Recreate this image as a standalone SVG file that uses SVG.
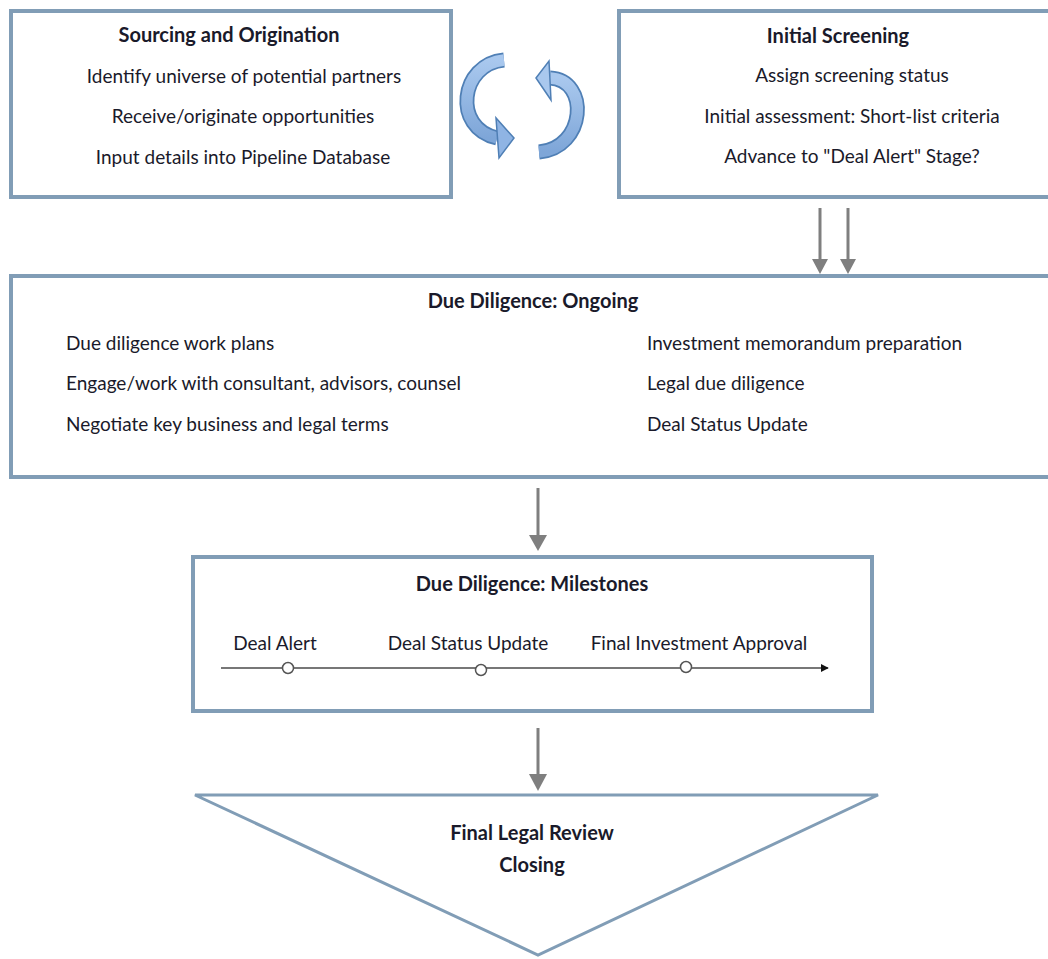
<svg xmlns="http://www.w3.org/2000/svg" width="1048" height="959" viewBox="0 0 1048 959">
<style>
.box{fill:#ffffff;stroke:#819DB6;stroke-width:4}
.t{font-family:Lato,"Liberation Sans",sans-serif;font-size:19px;fill:#1a1a2a}
.b{font-weight:bold;font-size:20px}
.m{text-anchor:middle}
.arr{stroke:#7f7f7f;stroke-width:3;fill:none}
.ah{fill:#7f7f7f}
.cyc{fill:none;stroke:#4f7fb5;stroke-width:15}
.cycin{fill:none;stroke:url(#g);stroke-width:11.5}
</style>
<defs>
<linearGradient id="g" x1="0" y1="0" x2="0" y2="1">
<stop offset="0" stop-color="#a9c8ee"/>
<stop offset="1" stop-color="#7ea6d8"/>
</linearGradient>
<marker id="tl" viewBox="0 0 10 10" refX="9" refY="5" markerWidth="8" markerHeight="8" markerUnits="userSpaceOnUse" orient="auto">
<path d="M0,0 L10,5 L0,10 z" fill="#111"/>
</marker>
</defs>
<rect width="1048" height="959" fill="#ffffff"/>

<g id="sourcing">
<rect class="box" x="11" y="11" width="440" height="186"/>
<text class="t b m" x="229" y="42">Sourcing and Origination</text>
<text class="t m" x="244" y="83">Identify universe of potential partners</text>
<text class="t m" x="243" y="123">Receive/originate opportunities</text>
<text class="t m" x="243" y="164">Input details into Pipeline Database</text>
</g>

<g id="cycle">
<path class="cyc" d="M504 60 C460 64,452 128,497 138"/>
<path class="cycin" d="M504 60 C460 64,452 128,497 138"/>
<polygon points="514,138 496,118 499,158" fill="#8fb4e4" stroke="#4f7fb5" stroke-width="1.5"/>
<path class="cyc" d="M539 152 C586 148,590 80,550 78"/>
<path class="cycin" d="M539 152 C586 148,590 80,550 78"/>
<polygon points="536,78 549,61 551,100" fill="#a9c8ee" stroke="#4f7fb5" stroke-width="1.5"/>
</g>

<g id="screening">
<rect class="box" x="619" y="11" width="450" height="186"/>
<text class="t b m" x="838" y="43">Initial Screening</text>
<text class="t m" x="852" y="82">Assign screening status</text>
<text class="t m" x="852" y="123">Initial assessment: Short-list criteria</text>
<text class="t m" x="852" y="163">Advance to "Deal Alert" Stage?</text>
</g>

<g id="ongoing">
<rect class="box" x="11" y="276" width="1060" height="201"/>
<text class="t b m" x="533" y="308">Due Diligence: Ongoing</text>
<text class="t" x="66" y="350">Due diligence work plans</text>
<text class="t" x="66" y="390">Engage/work with consultant, advisors, counsel</text>
<text class="t" x="66" y="431">Negotiate key business and legal terms</text>
<text class="t" x="647" y="350">Investment memorandum preparation</text>
<text class="t" x="647" y="390">Legal due diligence</text>
<text class="t" x="647" y="431">Deal Status Update</text>
</g>

<g id="milestones">
<rect class="box" x="193" y="557" width="679" height="154"/>
<text class="t b m" x="532" y="591">Due Diligence: Milestones</text>
<text class="t m" x="275" y="650">Deal Alert</text>
<text class="t m" x="468" y="650">Deal Status Update</text>
<text class="t m" x="699" y="650">Final Investment Approval</text>
<line x1="221" y1="668" x2="828" y2="668" stroke="#777" stroke-width="2" marker-end="url(#tl)"/>
<circle cx="288" cy="668" r="5.5" fill="#fff" stroke="#555" stroke-width="1.5"/>
<circle cx="481" cy="670" r="5.5" fill="#fff" stroke="#555" stroke-width="1.5"/>
<circle cx="686" cy="667" r="5.5" fill="#fff" stroke="#555" stroke-width="1.5"/>
</g>

<g id="closing">
<polygon points="195,795 878,795 538,955" fill="#fff" stroke="#819DB6" stroke-width="3"/>
<text class="t b m" x="532" y="840">Final Legal Review</text>
<text class="t b m" x="532" y="872">Closing</text>
</g>

<g id="connectors">
<line class="arr" x1="820" y1="208" x2="820" y2="262"/>
<polygon class="ah" points="812,259 828,259 820,274"/>
<line class="arr" x1="848" y1="208" x2="848" y2="262"/>
<polygon class="ah" points="840,259 856,259 848,274"/>
<line class="arr" x1="538" y1="488" x2="538" y2="538"/>
<polygon class="ah" points="529,535 547,535 538,551"/>
<line class="arr" x1="538" y1="728" x2="538" y2="777"/>
<polygon class="ah" points="529,774 547,774 538,791"/>
</g>
</svg>
